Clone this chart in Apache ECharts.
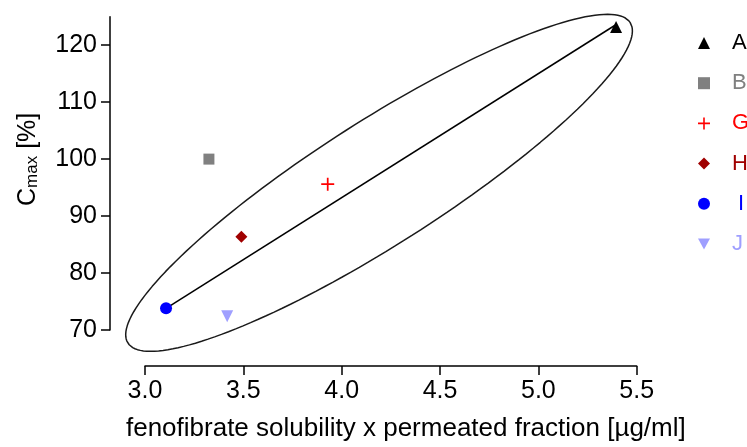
<!DOCTYPE html>
<html>
<head>
<meta charset="utf-8">
<script src="https://cdn.jsdelivr.net/npm/echarts@6/dist/echarts.min.js"></script>
<style>html,body{margin:0;padding:0;background:#fff;}#c{width:747px;height:447px;}</style>
</head>
<body>
<div id="c"></div>
<script>
// ---- data ----
const names   = ['A', 'B', 'G', 'H', ' I', 'J'];
const xValues = [5.395, 3.325, 3.929, 3.49, 3.107, 3.418];
const yValues = [123.2, 100.0, 95.6, 86.35, 73.8, 72.4];
const colors  = ['#000000', '#808080', '#ff0000', '#a00000', '#0000ff', '#9f9fff'];
const xTicks = [3.0, 3.5, 4.0, 4.5, 5.0, 5.5];
const yTicks = [70, 80, 90, 100, 110, 120];
// regression line end points
const lineX = [3.107, 5.39];
const lineY = [73.8, 123.5];
// confidence ellipse: centre, major and minor semi-axis vectors (data units)
const ellCenter = [4.19, 96.14];
const ellMajor  = [1.277, 27.83];
const ellMinor  = [0.169, -9.09];

const plusPath = 'path://M0,5.2H12V6.8H0Z M5.2,0H6.8V12H5.2Z';
const downTri = 'path://M0,0L12,0L6,11Z';
const symbols = ['triangle', 'rect', plusPath, 'diamond', 'circle', downTri];
const sizes = [12, 11, 13, 12, 12, 12];

const ellipse = [];
for (let i = 0; i <= 180; i++) {
  const t = i / 180 * Math.PI * 2;
  ellipse.push([
    ellCenter[0] + ellMajor[0] * Math.cos(t) + ellMinor[0] * Math.sin(t),
    ellCenter[1] + ellMajor[1] * Math.cos(t) + ellMinor[1] * Math.sin(t)
  ]);
}

const FONT = 'Liberation Sans, Arial, sans-serif';
const series = [
  { type: 'line', data: ellipse, xAxisIndex: 1, yAxisIndex: 1, showSymbol: false, clip: false, silent: true,
    lineStyle: { color: '#1a1a1a', width: 1.5 }, z: 1 },
  { type: 'line', data: lineX.map((x, i) => [x, lineY[i]]), showSymbol: false, clip: false,
    lineStyle: { color: '#000', width: 1.5 }, z: 2 }
];
names.forEach((n, i) => {
  series.push({
    type: 'scatter', name: n, data: [[xValues[i], yValues[i]]],
    symbol: symbols[i], symbolSize: sizes[i],
    itemStyle: { color: colors[i], opacity: 1 }, clip: false, z: 5
  });
});

const chart = echarts.init(document.getElementById('c'), null, { renderer: 'canvas' });
chart.setOption({
  animation: false,
  backgroundColor: '#fff',
  textStyle: { fontFamily: FONT },
  grid: [
    { left: 145, right: 110.3, top: 16.7, bottom: 113.7, containLabel: false },
    // same pixel scale, wider range (x 2.9–5.5, y 65–126) so the ellipse is not cut
    { left: 125.33, right: 110.3, top: 10.95, bottom: 84.95, containLabel: false }
  ],
  xAxis: [{
    type: 'value', gridIndex: 0, min: 3.0, max: 5.5, interval: 0.5, offset: 36,
    splitLine: { show: false },
    axisLine: { show: true, lineStyle: { color: '#000', width: 1.5 } },
    axisTick: { show: true, length: 9, lineStyle: { color: '#000', width: 1.5 }, customValues: xTicks },
    axisLabel: { color: '#000', fontSize: 25, fontFamily: FONT, margin: 13, customValues: xTicks,
      formatter: v => v.toFixed(1) },
    name: 'fenofibrate solubility x permeated fraction [µg/ml]',
    nameLocation: 'middle', nameGap: 50,
    nameTextStyle: { color: '#000', fontSize: 26, fontFamily: FONT, verticalAlign: 'top', padding: [0, 0, 0, 30] }
  }, {
    type: 'value', gridIndex: 1, min: 2.9, max: 5.5, show: false
  }],
  yAxis: [{
    type: 'value', gridIndex: 0, min: 70, max: 125, interval: 10, offset: 35,
    splitLine: { show: false },
    axisLine: { show: true, lineStyle: { color: '#000', width: 1.5 } },
    axisTick: { show: true, length: 9, lineStyle: { color: '#000', width: 1.5 }, customValues: yTicks },
    axisLabel: { color: '#000', fontSize: 25, fontFamily: FONT, margin: 13, customValues: yTicks },
    name: '{a|C}{b|max}{a| [%]}',
    nameLocation: 'middle', nameGap: 68, nameRotate: 90,
    nameTextStyle: {
      color: '#000', fontFamily: FONT, padding: [0, 0, 0, 28],
      rich: {
        a: { fontSize: 25, color: '#000', fontFamily: FONT, lineHeight: 28 },
        b: { fontSize: 17, color: '#000', fontFamily: FONT, padding: [9, 0, 0, 0], lineHeight: 28 }
      }
    }
  }, {
    type: 'value', gridIndex: 1, min: 65, max: 126, show: false
  }],
  legend: {
    data: names.map((n, i) => ({ name: n, textStyle: { color: colors[i] } })),
    orient: 'vertical', left: 693, top: 27,
    itemWidth: 12, itemHeight: 12, itemGap: 18.2,
    textStyle: { fontSize: 22, fontFamily: FONT, padding: [0, 0, 0, 17], lineHeight: 20 }
  },
  series: series
});
</script>
</body>
</html>
